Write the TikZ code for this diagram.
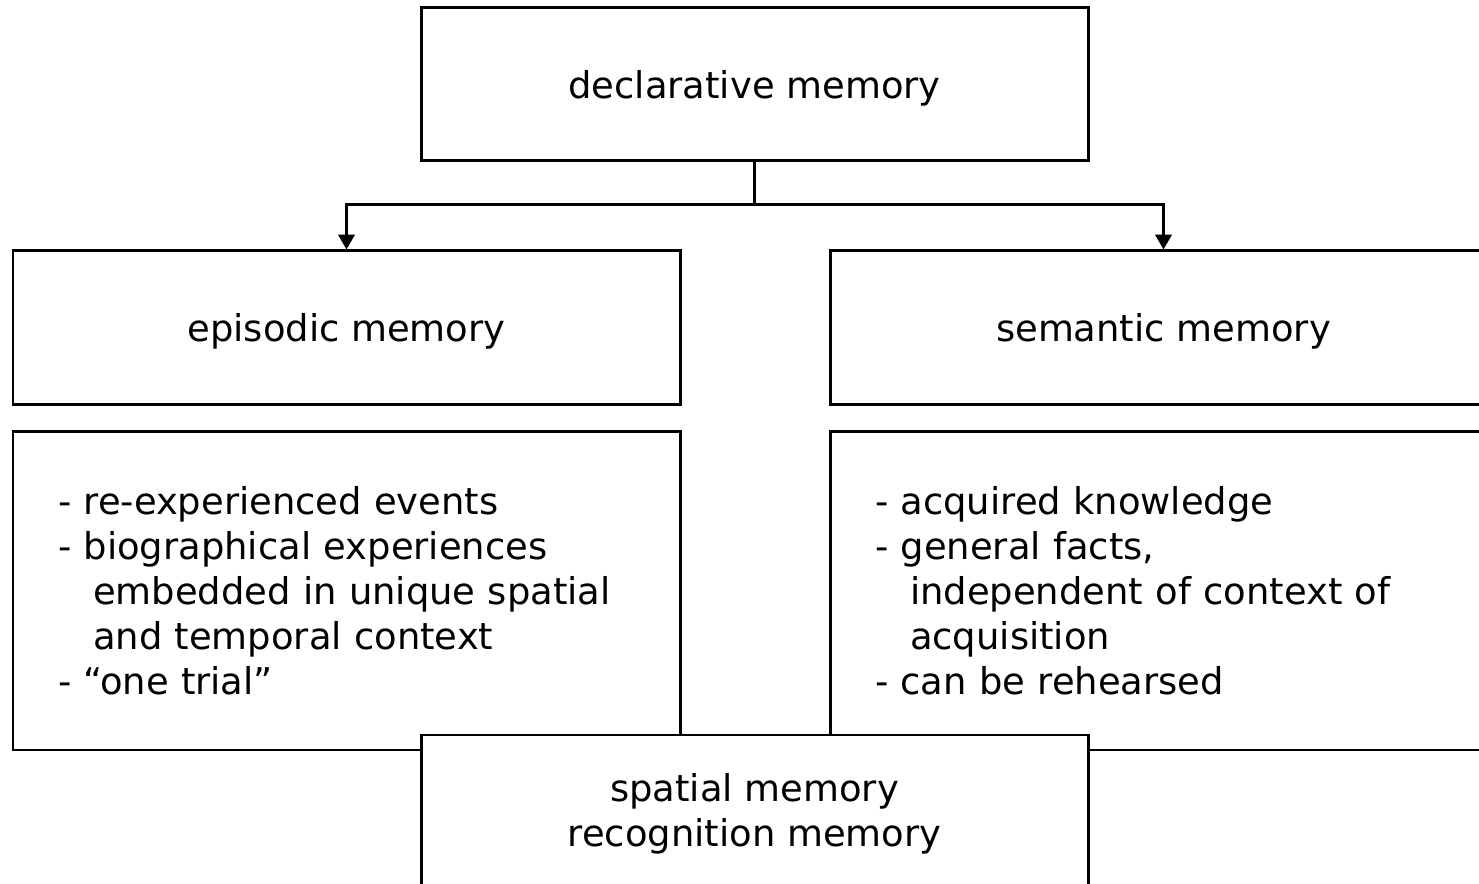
\documentclass[tikz,border=0pt]{standalone}
\usepackage{fontspec}
\setmainfont{DejaVu Sans}
\usetikzlibrary{arrows.meta}

\begin{document}
\begin{tikzpicture}[
  font=\fontsize{10.5}{12.8}\selectfont,
  box/.style={draw, line width=0.85pt, fill=white, inner sep=0, minimum width=6.67cm, minimum height=1.53cm, align=center},
  onebox/.style={box, text height=10.3pt, text depth=2.5pt},
  listbox/.style={draw, line width=0.85pt, fill=white, minimum width=6.67cm, minimum height=3.18cm, text width=5.77cm, inner xsep=0.45cm, inner ysep=0, align=left},
  link/.style={line width=0.85pt},
  >={Triangle[length=4.2pt,width=4.6pt]}]
\useasboundingbox (0,0) rectangle (14.79,8.84);
\clip (0,0) rectangle (14.79,8.84);
\node[onebox] (decl) at (7.545,7.995) {declarative memory};
\node[onebox, minimum height=1.54cm] (epi) at (3.465,5.56) {episodic memory};
\node[onebox, minimum height=1.54cm] (sem) at (11.635,5.56) {semantic memory};
\node[listbox] (epilist) at (3.465,2.93) {- re-experienced events\\
- biographical experiences\\
\hspace*{0.35cm}embedded in unique spatial\\
\hspace*{0.35cm}and temporal context\\
- “one trial”};
\node[listbox] (semlist) at (11.635,2.93) {- acquired knowledge\\
- general facts,\\
\hspace*{0.35cm}independent of context of\\
\hspace*{0.35cm}acquisition\\
- can be rehearsed};
% bottom box sits over the two lists
\node[box, minimum height=1.58cm] (spatial) at (7.545,0.70) {spatial memory\\recognition memory};
% connectors
\coordinate (split) at (7.545,6.79);
\draw[link] (decl.south) -- (split);
\draw[link, ->] (split) -| (epi.north);
\draw[link, ->] (split) -| (sem.north);
\end{tikzpicture}
\end{document}
